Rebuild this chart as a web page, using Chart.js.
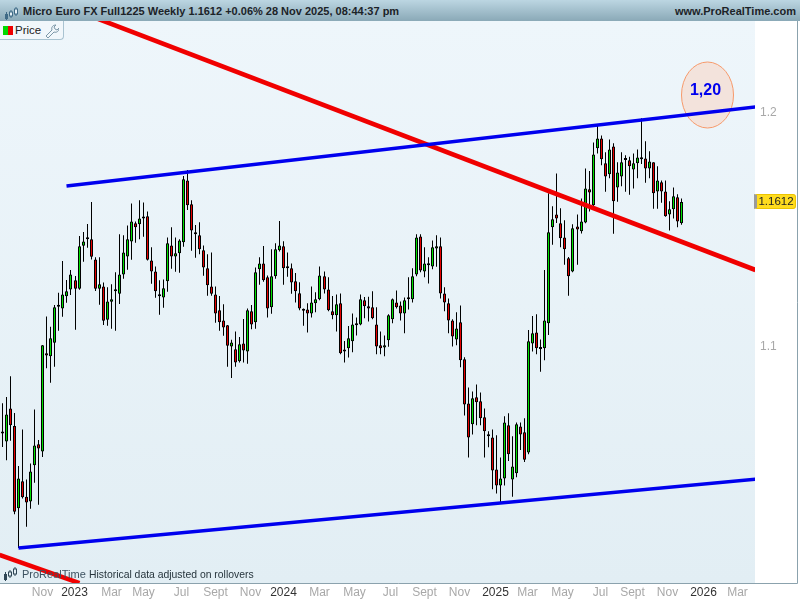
<!DOCTYPE html>
<html>
<head>
<meta charset="utf-8">
<title>Micro Euro FX Full1225 Weekly</title>
<script src="https://cdn.jsdelivr.net/npm/chart.js@4"></script>
<style>
    html, body { margin: 0; padding: 0; background: #fff; }
    #wrap { position: relative; width: 800px; height: 600px; overflow: hidden; font-family: "Liberation Sans", Arial, sans-serif; }
    #chart { position: absolute; left: 0; top: 0; }
    #header { position: absolute; left: 0; top: 0; width: 800px; height: 21px; background: linear-gradient(#bcd6e2, #8aa9b7); }
    #title { position: absolute; left: 23px; top: 5px; font-size: 11px; font-weight: bold; color: #1c2328; white-space: nowrap; }
    #site { position: absolute; right: 4px; top: 5px; font-size: 11px; font-weight: bold; color: #1c2328; }
    #priceBtn { position: absolute; left: 0; top: 21px; width: 64px; height: 19px; box-sizing: border-box; border: 1px solid #a9c3d1; border-left: none; border-top: none; border-radius: 0 0 4px 0; font-size: 11.5px; color: #222; background: #f1f7fb; }
    #priceBtn span { position: absolute; left: 15px; top: 3px; }
    #priceBtn i { position: absolute; left: 3px; top: 5px; width: 5px; height: 9px; background: #00d800; }
    #priceBtn b { position: absolute; left: 8px; top: 5px; width: 5px; height: 9px; background: #ee0000; }
    #priceBtn svg { position: absolute; left: 44px; top: 2px; }
    #brand { position: absolute; left: 22px; top: 568px; font-size: 11px; color: #3d5260; white-space: nowrap; }
    #note { position: absolute; left: 89px; top: 569px; font-size: 10.4px; color: #26343c; white-space: nowrap; }
    #tag { position: absolute; left: 754px; top: 194px; width: 42px; height: 15px; box-sizing: border-box; background: #ffdc1e; border: 1px solid #ecc400; border-left: 3px solid #9a9a9a; border-radius: 0 3px 3px 0; font-size: 11.5px; color: #222; text-align: center; line-height: 13px; }
    .icon { position: absolute; }
</style>
</head>
<body>
<div id="wrap">
    <canvas id="chart" width="800" height="600"></canvas>
    <div id="header">
        <svg class="icon" style="left:4px;top:7px" width="15" height="13" viewBox="0 0 15 13"><path d="M2.5 5v8M7 3v8M12 0v9" stroke="#3f6a86"/><rect x="1" y="7" width="3" height="5" fill="#3f6a86"/><rect x="5.5" y="5" width="3" height="4" fill="#e8f2f7" stroke="#3f6a86"/><rect x="10.5" y="2" width="3" height="5" fill="#e8f2f7" stroke="#3f6a86"/></svg>
        <div id="title">Micro Euro FX Full1225 Weekly 1.1612 +0.06% 28 Nov 2025, 08:44:37 pm</div>
        <div id="site">www.ProRealTime.com</div>
    </div>
    <div id="priceBtn"><i></i><b></b><span>Price</span>
        <svg width="15" height="15" viewBox="0 0 15 15"><path d="M2 13l6-6c-1-3 1-5 4-5l-2 2 1 2 2 1 2-2c0 3-2 5-5 4l-6 6z" fill="none" stroke="#7d98a8"/></svg>
    </div>
    <svg class="icon" style="left:3px;top:567px" width="15" height="14" viewBox="0 0 15 14"><path d="M2.5 5v9M7 3v8M12 0v9" stroke="#2f4655"/><rect x="1" y="7" width="3" height="6" fill="#2f4655"/><rect x="5.5" y="5" width="3" height="4" fill="#e6f0f5" stroke="#2f4655"/><rect x="10.5" y="2" width="3" height="5" fill="#e6f0f5" stroke="#2f4655"/></svg>
    <div id="brand">ProRealTime</div>
    <div id="note">Historical data adjusted on rollovers</div>
    <div id="tag">1.1612</div>
</div>
<script>
// Weekly candles
const highs = [
    1.0754,1.0781,1.0869,1.0712,1.0486,1.0642,1.0429,1.0497,1.0727,1.0597,
    1.1002,1.1124,1.1080,1.1173,1.1225,1.1360,1.1279,1.1322,1.1296,1.1467,
    1.1484,1.1518,1.1612,1.1376,1.1376,1.1269,1.1248,1.1261,1.1312,1.1475,
    1.1470,1.1512,1.1606,1.1529,1.1620,1.1610,1.1572,1.1419,1.1337,1.1278,
    1.1282,1.1461,1.1504,1.1461,1.1453,1.1723,1.1748,1.1620,1.1514,1.1526,
    1.1427,1.1389,1.1397,1.1252,1.1211,1.1176,1.1087,1.1025,1.1060,1.1036,
    1.1113,1.1158,1.1173,1.1333,1.1376,1.1424,1.1299,1.1411,1.1436,1.1531,
    1.1445,1.1397,1.1350,1.1309,1.1270,1.1158,1.1180,1.1252,1.1227,1.1337,
    1.1316,1.1291,1.1211,1.1218,1.1222,1.1019,1.1083,1.1137,1.1120,1.1218,
    1.1207,1.1208,1.1231,1.1163,1.1060,1.1043,1.1133,1.1201,1.1235,1.1188,
    1.1205,1.1291,1.1329,1.1474,1.1474,1.1419,1.1376,1.1448,1.1470,1.1461,
    1.1248,1.1201,1.1112,1.1142,1.1171,1.0950,1.0821,1.0804,1.0834,1.0800,
    1.0732,1.0634,1.0642,1.0617,1.0523,1.0698,1.0711,1.0613,1.0672,1.0672,
    1.0690,1.1066,1.1126,1.1133,1.1026,1.1322,1.1649,1.1594,1.1734,1.1585,
    1.1534,1.1377,1.1517,1.1559,1.1627,1.1755,1.1744,1.1866,1.1939,1.1896,
    1.1824,1.1879,1.1862,1.1781,1.1824,1.1811,1.1805,1.1819,1.1836,1.1969,
    1.1871,1.1828,1.1781,1.1764,1.1704,1.1704,1.1615,1.1674,1.1645,1.1627
];
const opens = [
    1.0625,1.0591,1.0732,1.0657,1.0306,1.0421,1.0355,1.0335,1.0489,1.0579,
    1.0548,1.0967,1.0954,1.1012,1.1165,1.1158,1.1210,1.1239,1.1278,1.1242,
    1.1425,1.1453,1.1453,1.1367,1.1242,1.1252,1.1110,1.1187,1.1231,1.1221,
    1.1303,1.1380,1.1444,1.1521,1.1517,1.1546,1.1551,1.1363,1.1316,1.1218,
    1.1205,1.1274,1.1427,1.1380,1.1393,1.1440,1.1704,1.1602,1.1483,1.1470,
    1.1406,1.1329,1.1252,1.1218,1.1150,1.1107,1.1086,1.0996,1.0984,1.0933,
    1.1009,1.0975,1.1146,1.1099,1.1325,1.1350,1.1291,1.1163,1.1295,1.1406,
    1.1423,1.1329,1.1329,1.1274,1.1223,1.1148,1.1154,1.1137,1.1180,1.1197,
    1.1295,1.1239,1.1146,1.1129,1.1180,1.0974,1.0988,1.1018,1.1086,1.1090,
    1.1193,1.1167,1.1163,1.1090,1.1001,1.0992,1.1022,1.1112,1.1184,1.1171,
    1.1137,1.1197,1.1197,1.1303,1.1465,1.1316,1.1350,1.1337,1.1414,1.1423,
    1.1222,1.1180,1.1107,1.1026,1.1099,1.0941,1.0753,1.0664,1.0779,1.0762,
    1.0694,1.0621,1.0608,1.0471,1.0403,1.0433,1.0660,1.0429,1.0455,1.0655,
    1.0630,1.0544,1.1009,1.1056,1.0985,1.0988,1.1095,1.1504,1.1559,1.1521,
    1.1461,1.1372,1.1316,1.1508,1.1487,1.1525,1.1666,1.1598,1.1841,1.1883,
    1.1777,1.1730,1.1849,1.1674,1.1721,1.1791,1.1790,1.1751,1.1777,1.1794,
    1.1798,1.1755,1.1781,1.1657,1.1696,1.1657,1.1559,1.1581,1.1632,1.1521
];
const closes = [
    1.0625,1.0706,1.0660,1.0291,1.0433,1.0353,1.0331,1.0463,1.0574,1.0561,
    1.1001,1.0957,1.1031,1.1163,1.1165,1.1218,1.1231,1.1303,1.1242,1.1423,
    1.1444,1.1453,1.1379,1.1242,1.1261,1.1106,1.1188,1.1197,1.1231,1.1303,
    1.1397,1.1453,1.1529,1.1504,1.1542,1.1542,1.1366,1.1316,1.1231,1.1210,
    1.1244,1.1436,1.1380,1.1393,1.1448,1.1709,1.1598,1.1491,1.1474,1.1410,
    1.1333,1.1257,1.1221,1.1137,1.1099,1.1077,1.0999,1.1013,1.0928,1.1005,
    1.0979,1.1150,1.1090,1.1312,1.1350,1.1278,1.1158,1.1295,1.1410,1.1427,
    1.1329,1.1337,1.1269,1.1231,1.1158,1.1148,1.1137,1.1184,1.1197,1.1299,
    1.1239,1.1150,1.1129,1.1176,1.0967,1.0974,1.1031,1.1090,1.1095,1.1197,
    1.1167,1.1158,1.1116,1.0996,1.0988,1.1001,1.1129,1.1197,1.1163,1.1137,
    1.1193,1.1197,1.1295,1.1461,1.1320,1.1350,1.1342,1.1419,1.1423,1.1222,
    1.1184,1.1107,1.1039,1.1073,1.0937,1.0749,1.0608,1.0775,1.0758,1.0690,
    1.0634,1.0613,1.0467,1.0403,1.0433,1.0672,1.0536,1.0484,1.0664,1.0621,
    1.0513,1.1018,1.1052,1.0988,1.0985,1.1107,1.1483,1.1538,1.1542,1.1457,
    1.1410,1.1295,1.1500,1.1495,1.1529,1.1670,1.1653,1.1815,1.1883,1.1794,
    1.1721,1.1836,1.1615,1.1738,1.1781,1.1791,1.1764,1.1777,1.1802,1.1802,
    1.1755,1.1785,1.1649,1.1704,1.1657,1.1551,1.1581,1.1636,1.1529,1.1612
];
const lows = [
    1.0567,1.0511,1.0594,1.0281,1.0137,1.0348,1.0227,1.0304,1.0415,1.0321,
    1.0525,1.0903,1.0841,1.0909,1.1063,1.1123,1.1182,1.1215,1.1067,1.1238,
    1.1357,1.1417,1.1367,1.1233,1.1174,1.1088,1.1084,1.1072,1.1063,1.1177,
    1.1285,1.1323,1.1366,1.1438,1.1453,1.1464,1.1363,1.1263,1.1204,1.1131,
    1.1161,1.1229,1.1327,1.1315,1.1310,1.1421,1.1578,1.1404,1.1374,1.1389,
    1.1298,1.1212,1.1212,1.1097,1.1063,1.1042,1.0909,1.0862,1.0909,1.0928,
    1.0928,1.0922,1.1069,1.1072,1.1259,1.1272,1.1120,1.1135,1.1285,1.1401,
    1.1259,1.1293,1.1221,1.1184,1.1150,1.1084,1.1056,1.1120,1.1142,1.1193,
    1.1222,1.1146,1.1112,1.1060,1.0963,1.0928,1.0949,1.0971,1.1043,1.1086,
    1.1116,1.1102,1.1112,1.0963,1.0963,1.0954,1.0995,1.1095,1.1158,1.1107,
    1.1052,1.1154,1.1184,1.1295,1.1312,1.1291,1.1265,1.1325,1.1336,1.1201,
    1.1146,1.1052,1.0996,1.1001,1.0907,1.0702,1.0523,1.0621,1.0660,1.0660,
    1.0523,1.0566,1.0387,1.0369,1.0332,1.0403,1.0508,1.0355,1.0438,1.0554,
    1.0503,1.0536,1.0975,1.0963,1.0888,1.0937,1.1045,1.1430,1.1522,1.1419,
    1.1344,1.1212,1.1312,1.1344,1.1478,1.1521,1.1572,1.1593,1.1819,1.1769,
    1.1656,1.1713,1.1477,1.1613,1.1679,1.1656,1.1643,1.1670,1.1713,1.1774,
    1.1694,1.1713,1.1583,1.1583,1.1609,1.1549,1.1491,1.1542,1.1504,1.1515
];

// Trend lines as [week, price] pairs
const upperChannel = [[16.0, 1.1680], [187.4, 1.2017]];
const lowerChannel = [[3.9, 1.0137], [187.4, 1.0430]];
const redTrend = [[23.1, 1.2397], [187.4, 1.1322]];
const redTrendLow = [[-0.7, 1.0107], [19.1, 0.9987]];

// Axis labels
const tickWeeks = [9.8, 17.8, 27.0, 35.0, 44.4, 52.9, 61.6, 70.0, 79.0, 87.7, 96.6, 104.9, 113.8, 122.8, 130.7, 139.4, 148.9, 156.8, 165.5, 174.5, 183.0];
const tickLabels = ['Nov', '2023', 'Mar', 'May', 'Jul', 'Sept', 'Nov', '2024', 'Mar', 'May', 'Jul', 'Sept', 'Nov', '2025', 'Mar', 'May', 'Jul', 'Sept', 'Nov', '2026', 'Mar'];
const priceTicks = [1.1, 1.2];

const toPoints = pairs => pairs.map(p => ({ x: p[0], y: p[1] }));
const wicks = highs.map((h, i) => ({ x: i, y: [lows[i], h] }));
const bodies = opens.map((o, i) => ({ x: i, y: [o, closes[i]] }));

function bodyColor(ctx) {
    const i = ctx.dataIndex;
    if (opens[i] === closes[i]) return '#000';
    return closes[i] > opens[i] ? '#00e000' : '#e60000';
}

function trendLine(pairs, color, width) {
    return {
        type: 'line',
        data: toPoints(pairs),
        borderColor: color,
        borderWidth: width,
        pointRadius: 0,
        tension: 0,
        order: 0
    };
}

const chartBackground = {
    id: 'chartBackground',
    beforeDraw(chart) {
        const { ctx, chartArea: a } = chart;
        const grad = ctx.createLinearGradient(0, a.top, 0, a.bottom);
        grad.addColorStop(0, '#eef6fb');
        grad.addColorStop(1, '#e2eef4');
        ctx.save();
        ctx.fillStyle = grad;
        ctx.fillRect(a.left, a.top, a.right - a.left, a.bottom - a.top);
        // frame on the bottom and the right
        ctx.strokeStyle = '#8ba2ad';
        ctx.lineWidth = 1;
        ctx.beginPath();
        ctx.moveTo(0, a.bottom + 0.5);
        ctx.lineTo(797.5, a.bottom + 0.5);
        ctx.lineTo(797.5, a.top);
        ctx.stroke();
        ctx.restore();
    }
};

// The hand drawn "1,20" bubble sits under the blue line
const bubble = {
    id: 'bubble',
    beforeDatasetsDraw(chart) {
        const ctx = chart.ctx;
        ctx.save();
        ctx.beginPath();
        ctx.ellipse(707.5, 95, 26, 33, 0, 0, Math.PI * 2);
        ctx.fillStyle = '#f3e3dc';
        ctx.fill();
        ctx.strokeStyle = '#f79a6b';
        ctx.lineWidth = 1;
        ctx.stroke();
        ctx.fillStyle = '#0000ee';
        ctx.font = 'bold 16px "Liberation Sans", Arial, sans-serif';
        ctx.textAlign = 'center';
        ctx.textBaseline = 'middle';
        ctx.fillText('1,20', 705.5, 91);
        ctx.restore();
    }
};

new Chart(document.getElementById('chart').getContext('2d'), {
    type: 'bar',
    data: {
        datasets: [
            trendLine(upperChannel, '#0000ee', 3.5),
            trendLine(lowerChannel, '#0000ee', 3.5),
            trendLine(redTrend, '#f00000', 4.6),
            trendLine(redTrendLow, '#f00000', 4.6),
            {
                data: bodies,
                backgroundColor: bodyColor,
                borderColor: '#000',
                borderWidth: 1,
                borderSkipped: false,
                barThickness: 3,
                minBarLength: 2,
                inflateAmount: 0,
                grouped: false,
                order: 1
            },
            {
                data: wicks,
                backgroundColor: '#000',
                borderWidth: 0,
                barThickness: 1,
                inflateAmount: 0,
                grouped: false,
                order: 2
            }
        ]
    },
    options: {
        responsive: false,
        animation: false,
        events: [],
        layout: { padding: { top: 21, left: 0, right: 0, bottom: 0 } },
        plugins: { legend: { display: false }, tooltip: { enabled: false } },
        scales: {
            x: {
                type: 'linear',
                offset: false,
                min: -0.6785,
                max: 187.3203,
                grid: { display: false, offset: false, drawTicks: false },
                border: { display: false },
                afterBuildTicks: axis => { axis.ticks = tickWeeks.map(value => ({ value })); },
                afterFit: axis => { axis.height = 17; },
                // candles sit on whole pixels in the original
                afterUpdate: axis => {
                    const toPixel = axis.getPixelForValue.bind(axis);
                    axis.getPixelForValue = v => Math.floor(toPixel(v)) + 0.5;
                },
                ticks: {
                    autoSkip: false,
                    maxRotation: 0,
                    padding: 2,
                    font: { size: 12, family: '"Liberation Sans", Arial, sans-serif' },
                    color: ctx => /^\d/.test(tickLabels[ctx.index]) ? '#333' : '#a8a8a8',
                    callback: (value, index) => tickLabels[index]
                }
            },
            y: {
                position: 'right',
                min: 0.99874,
                max: 1.23838,
                grid: { display: false, drawTicks: false },
                border: { display: false },
                // label text sits a touch under the price level
                afterBuildTicks: axis => { axis.ticks = priceTicks.map(value => ({ value: value - 0.0007 })); },
                afterFit: axis => { axis.width = 45; },
                ticks: {
                    padding: 5,
                    font: { size: 12, family: '"Liberation Sans", Arial, sans-serif' },
                    color: '#a8a8a8',
                    callback: value => value.toFixed(1)
                }
            }
        }
    },
    plugins: [chartBackground, bubble]
});
</script>
</body>
</html>
